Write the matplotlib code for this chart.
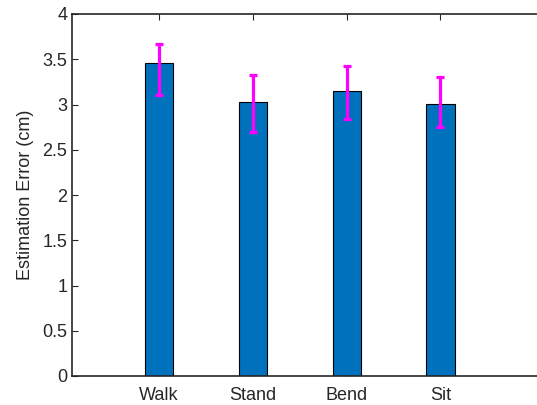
import matplotlib
matplotlib.use("Agg")
import matplotlib.pyplot as plt
import numpy as np

plt.rcParams['font.family'] = ['Liberation Sans', 'DejaVu Sans']

activities = ["Walk", "Stand", "Bend", "Sit"]
mean_error = [3.46, 3.03, 3.15, 3.01]
err_lower = [0.36, 0.33, 0.31, 0.26]
err_upper = [0.21, 0.30, 0.28, 0.29]
y_ticks = [0, 0.5, 1, 1.5, 2, 2.5, 3, 3.5, 4]
y_tick_labels = ["0", "0.5", "1", "1.5", "2", "2.5", "3", "3.5", "4"]

fig = plt.figure(figsize=(5.37, 4.05), dpi=100)
ax = fig.add_axes([72 / 537, 29 / 405, 465 / 537, 362 / 405])

x = np.arange(1, len(activities) + 1)
ax.bar(x, mean_error, width=0.3, color="#0072BD", edgecolor="black",
       linewidth=0.8, zorder=2)
ax.errorbar(x, mean_error, yerr=[err_lower, err_upper], fmt="none",
            ecolor="#FF00FF", elinewidth=2.3, capsize=3, capthick=2.3, zorder=3)

ax.set_xlim(0.07, 5.03)
ax.set_ylim(0, 4)
ax.set_xticks(x)
ax.set_xticklabels(activities)
ax.set_yticks(y_ticks)
ax.set_yticklabels(y_tick_labels)
ax.set_ylabel("Estimation Error (cm)", fontsize=13, color="#262626", labelpad=6)

for side in ["left", "bottom", "top"]:
    ax.spines[side].set_color("#262626")
    ax.spines[side].set_linewidth(1.2)
ax.spines["right"].set_visible(False)
ax.tick_params(direction="in", length=4, width=0.8, colors="#262626",
               labelsize=13, right=False)
ax.tick_params(axis="x", pad=8, top=True)

fig.savefig("out.png", dpi=100)
